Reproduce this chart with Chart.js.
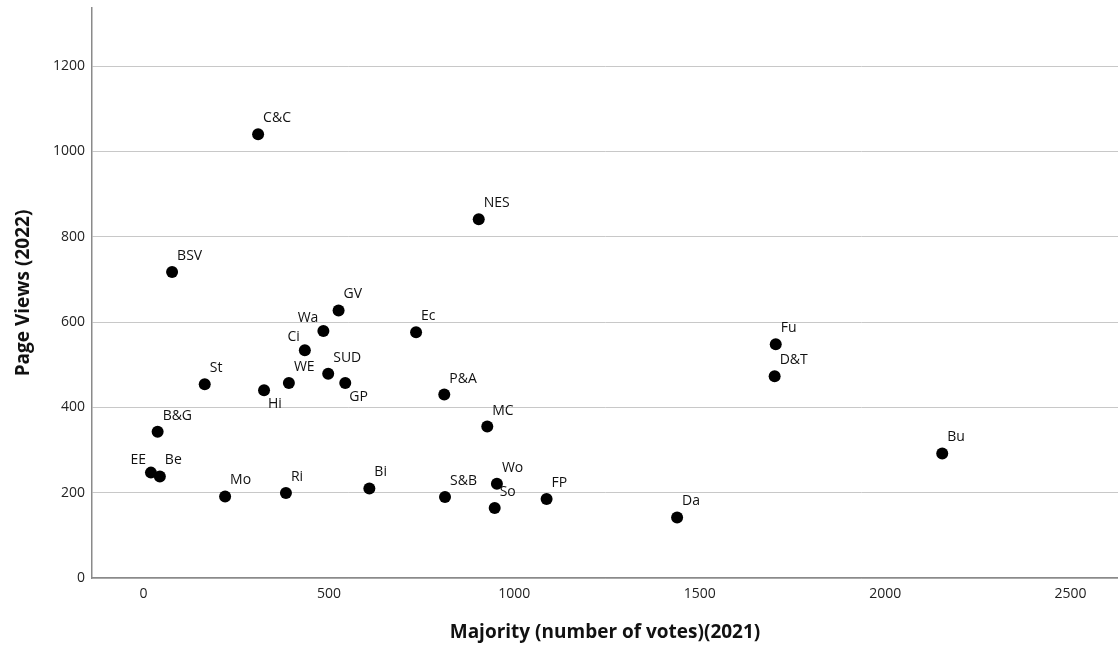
<!DOCTYPE html>
<html>
<head>
<meta charset="utf-8">
<script src="https://cdn.jsdelivr.net/npm/chart.js@4"></script>
<style>
  html, body { margin: 0; padding: 0; background: #fff; }
  #wrap { width: 1118px; height: 647px; position: relative; }
</style>
</head>
<body>
<div id="wrap"><canvas id="scatter"></canvas></div>
<script>
// --------- DATA ----------
const codes = ["C&C", "NES", "BSV", "GV", "Wa", "Ci", "Ec", "SUD", "WE", "GP", "Hi", "St",
  "P&A", "MC", "B&G", "EE", "Be", "Mo", "Ri", "Bi", "S&B", "Wo", "So", "FP", "Da", "Fu", "D&T", "Bu"];
const majority = [309, 904, 77, 526, 485, 435, 735, 498, 392, 544, 325, 165,
  811, 927, 38, 20, 44, 220, 384, 609, 813, 953, 947, 1087, 1439, 1705, 1702, 2154];
const pageViews = [1040, 841, 717, 627, 579, 534, 576, 479, 457, 457, 440, 454,
  430, 355, 343, 247, 238, 191, 199, 210, 190, 221, 164, 185, 142, 548, 473, 292];
// where each label sits around its point (ne = above right, nw = above left, se = below right)
const labelSide = ["ne", "ne", "ne", "ne", "nw", "nw", "ne", "ne", "ne", "se", "se", "ne",
  "ne", "ne", "ne", "nw", "ne", "ne", "ne", "ne", "ne", "ne", "ne", "ne", "ne", "ne", "ne", "ne"];

const xTicks = [0, 500, 1000, 1500, 2000, 2500];
const yTicks = [0, 200, 400, 600, 800, 1000, 1200];

const FONT = "'Open Sans', 'DejaVu Sans', sans-serif";

// point labels drawn next to each dot
const pointLabels = {
  id: "pointLabels",
  afterDatasetsDraw(chart) {
    const ctx = chart.ctx;
    const meta = chart.getDatasetMeta(0);
    ctx.save();
    ctx.font = "14px " + FONT;
    ctx.fillStyle = "#111";
    ctx.textBaseline = "middle";
    meta.data.forEach((pt, i) => {
      const side = labelSide[i];
      let x = pt.x, y = pt.y;
      if (side === "nw") { ctx.textAlign = "right"; x -= 5; y -= 13; }
      else if (side === "se") { ctx.textAlign = "left"; x += 4; y += 14; }
      else { ctx.textAlign = "left"; x += 5; y -= 16; }
      ctx.fillText(codes[i], x, y);
    });
    ctx.restore();
  }
};

new Chart(document.getElementById("scatter").getContext("2d"), {
  type: "scatter",
  data: {
    datasets: [{
      data: majority.map((v, i) => ({ x: v, y: pageViews[i] })),
      backgroundColor: "#000",
      borderWidth: 0,
      pointRadius: 6,
      pointHoverRadius: 6
    }]
  },
  options: {
    responsive: true,
    maintainAspectRatio: false,
    animation: false,
    layout: { autoPadding: false, padding: { top: 8, right: 0, bottom: 0, left: 0 } },
    plugins: { legend: { display: false }, tooltip: { enabled: false } },
    scales: {
      x: {
        type: "linear",
        min: -139,
        max: 2628,
        afterBuildTicks: s => { s.ticks = xTicks.map(v => ({ value: v })); },
        afterFit: s => { s.height = 69; s.paddingLeft = 0; s.paddingRight = 0; },
        grid: { display: false, drawTicks: false },
        border: { display: true, color: "#8a8a8a", width: 1.5 },
        ticks: { padding: 8, color: "#222", font: { family: FONT, size: 14 }, callback: v => String(v) },
        title: {
          display: true,
          text: "Majority (number of votes)(2021)",
          color: "#111",
          font: { family: FONT, size: 19, weight: "bold" },
          padding: { top: 0, bottom: 3 }
        }
      },
      y: {
        type: "linear",
        min: 0,
        max: 1336,
        afterBuildTicks: s => { s.ticks = yTicks.map(v => ({ value: v })); },
        afterFit: s => { s.width = 92; s.paddingTop = 0; s.paddingBottom = 0; },
        grid: { color: "#c8c8c8", lineWidth: 1, drawTicks: false },
        border: { display: true, color: "#8a8a8a", width: 1.5 },
        ticks: { padding: 7, color: "#222", font: { family: FONT, size: 14 }, callback: v => String(v) },
        title: {
          display: true,
          text: "Page Views (2022)",
          color: "#111",
          font: { family: FONT, size: 19, weight: "bold" },
          padding: { top: 12, bottom: 0 }
        }
      }
    }
  },
  plugins: [pointLabels]
});
</script>
</body>
</html>
